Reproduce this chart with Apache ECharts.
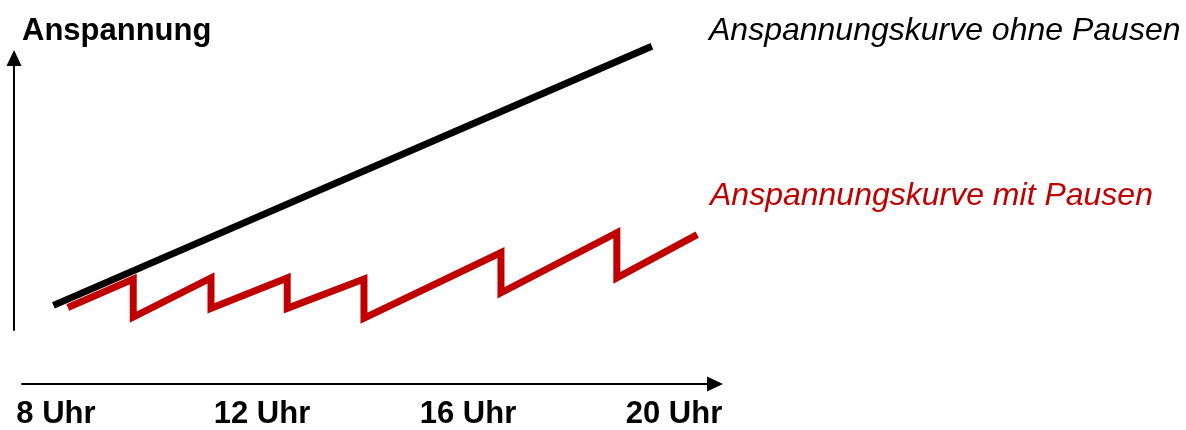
<!DOCTYPE html>
<html>
<head>
<meta charset="utf-8">
<script src="https://cdn.jsdelivr.net/npm/echarts@6/dist/echarts.min.js"></script>
<style>
  html, body { margin: 0; padding: 0; background: #fff; }
  #chart { width: 1186px; height: 430px; }
</style>
</head>
<body>
<div id="chart"></div>
<script>
// hours of the day (x) and tension level (y, arbitrary units)
const tickHours = [8, 12, 16, 20];
const blackHours = [7.95, 19.57];
const blackLevels = [9, 103.6];
const redHours = [8.23, 9.5, 9.5, 11.01, 11.01, 12.49, 12.49, 13.98, 13.98, 16.64, 16.64, 18.89, 18.89, 20.45];
const redLevels = [8.2, 18.6, 4.7, 19.0, 7.9, 19.0, 7.9, 18.6, 4.3, 28.3, 13.6, 35.5, 19.0, 34.8];

const font = 'Liberation Sans, Arial, sans-serif';

const chart = echarts.init(document.getElementById('chart'));

const pairs = (xs, ys) => xs.map((x, i) => [x, ys[i]]);

chart.setOption({
  animation: false,
  grid: { left: 22, right: 471, top: 58, bottom: 95 },
  xAxis: {
    type: 'value',
    min: 7.34,
    max: 20.796,
    offset: 54,
    splitLine: { show: false },
    axisTick: { show: false },
    axisLine: {
      show: true,
      onZero: false,
      symbol: ['none', 'triangle'],
      symbolSize: [15, 16],
      lineStyle: { color: '#000', width: 2 }
    },
    axisLabel: {
      customValues: tickHours,
      formatter: v => v + ' Uhr',
      margin: 15,
      color: '#000',
      fontFamily: font,
      fontWeight: 'bold',
      fontSize: 31
    }
  },
  yAxis: {
    type: 'value',
    min: 0,
    max: 99.3,
    offset: 8,
    splitLine: { show: false },
    axisTick: { show: false },
    axisLabel: { show: false },
    axisLine: {
      show: true,
      onZero: false,
      symbol: ['none', 'triangle'],
      symbolSize: [15, 16],
      lineStyle: { color: '#000', width: 2 }
    },
    name: 'Anspannung',
    nameLocation: 'end',
    nameGap: 27,
    nameTextStyle: {
      color: '#000',
      fontFamily: font,
      fontWeight: 'bold',
      fontSize: 31,
      align: 'left',
      verticalAlign: 'middle',
      padding: [0, 0, 0, 8]
    }
  },
  graphic: [
    {
      type: 'text', left: 709, top: 15,
      style: { text: 'Anspannungskurve ohne Pausen', fill: '#000', font: 'italic 32px ' + font }
    },
    {
      type: 'text', left: 710, top: 180,
      style: { text: 'Anspannungskurve mit Pausen', fill: '#c00000', font: 'italic 32px ' + font }
    }
  ],
  series: [
    {
      type: 'line',
      data: pairs(blackHours, blackLevels),
      showSymbol: false,
      clip: false,
      lineStyle: { color: '#000', width: 7 },
      z: 2
    },
    {
      type: 'line',
      data: pairs(redHours, redLevels),
      showSymbol: false,
      clip: false,
      lineStyle: { color: '#c00000', width: 7, join: 'miter' },
      z: 3
    }
  ]
});
</script>
</body>
</html>
